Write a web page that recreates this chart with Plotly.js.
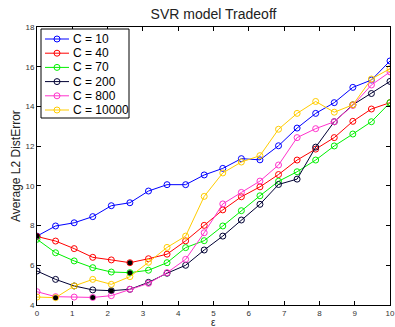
<!DOCTYPE html>
<html>
<head>
<meta charset="utf-8">
<script src="https://cdn.plot.ly/plotly-3.0.1.min.js"></script>
<style>html,body{margin:0;padding:0;background:#fff;}#chart{width:395px;height:327px;}</style>
</head>
<body>
<div id="chart"></div>
<script>
// epsilon values (x axis)
const eps = [0, 0.5263, 1.0526, 1.5789, 2.1053, 2.6316, 3.1579, 3.6842, 4.2105, 4.7368,
             5.2632, 5.7895, 6.3158, 6.8421, 7.3684, 7.8947, 8.4211, 8.9474, 9.4737, 10];

const seriesNames = ['C = 10', 'C = 40', 'C = 70', 'C = 200', 'C = 800', 'C = 10000'];

const c10    = [7.47, 7.98, 8.14, 8.45, 9.00, 9.15, 9.74, 10.06, 10.06, 10.55, 10.88, 11.37, 11.31, 12.02, 12.91, 13.65, 14.19, 14.96, 15.33, 16.29];
const c40    = [7.45, 7.22, 6.84, 6.40, 6.27, 6.13, 6.33, 6.56, 7.23, 8.01, 8.79, 9.45, 9.95, 10.57, 11.30, 11.85, 12.43, 13.25, 13.87, 14.19];
const c70    = [7.31, 6.63, 6.22, 5.88, 5.66, 5.63, 5.75, 6.13, 6.89, 7.24, 7.98, 8.75, 9.50, 10.23, 10.71, 11.30, 12.01, 12.61, 13.23, 14.19];
const c200   = [5.71, 5.29, 4.96, 4.76, 4.72, 4.79, 5.14, 5.60, 6.00, 6.77, 7.47, 8.28, 9.07, 10.07, 10.34, 11.95, 13.23, 14.08, 14.65, 15.26];
const c800   = [4.67, 4.42, 4.40, 4.38, 4.47, 4.79, 5.09, 5.63, 6.30, 7.64, 9.09, 9.67, 10.24, 11.05, 12.43, 12.88, 13.23, 14.05, 15.08, 15.74];
const c10000 = [4.40, 4.37, 4.96, 5.29, 5.04, 5.43, 6.15, 6.90, 7.47, 9.47, 10.65, 11.20, 11.52, 12.85, 13.65, 14.25, 13.71, 14.08, 15.38, 15.90];

const seriesValues = [c10, c40, c70, c200, c800, c10000];
const seriesColors = ['#0000ff', '#ff0000', '#00f000', '#000033', '#ff33cc', '#ffcc00'];

const xTicks = [0, 1, 2, 3, 4, 5, 6, 7, 8, 9, 10];
const yTicks = [4, 6, 8, 10, 12, 14, 16, 18];
const xTitle = 'ε';
const yTitle = 'Average L2 DistError';

const FONT = 'Liberation Sans, Arial, Helvetica, sans-serif';

const traces = [];
seriesValues.forEach((vals, i) => {
  traces.push({
    type: 'scatter', mode: 'lines+markers', x: eps, y: vals, name: seriesNames[i],
    line: {color: seriesColors[i], width: 1},
    marker: {symbol: 'circle-open', size: 6, color: seriesColors[i], line: {width: 1, color: seriesColors[i]}},
    showlegend: false, hoverinfo: 'skip'
  });
});
// minimum of each series marked with a filled black dot
const minX = [], minY = [];
seriesValues.forEach(vals => {
  let k = 0;
  vals.forEach((v, j) => { if (v < vals[k]) k = j; });
  minX.push(eps[k]); minY.push(vals[k]);
});
traces.push({
  type: 'scatter', mode: 'markers', x: minX, y: minY,
  marker: {symbol: 'circle', size: 5, color: '#000'}, showlegend: false, hoverinfo: 'skip'
});

// custom legend (paper coordinates) to match compact spacing
const W = 353, H = 278, L = 37, T = 27;
const px = p => (p - L) / W;
const py = p => (T + H - p) / H;
const shapes = [{type: 'rect', xref: 'paper', yref: 'paper', x0: px(41), x1: px(129), y0: py(118), y1: py(29),
  line: {color: '#000', width: 1}, fillcolor: '#fff', layer: 'above'}];
const annotations = [];
seriesNames.forEach((nm, i) => {
  const yc = 39 + 14.2 * i;
  shapes.push({type: 'line', xref: 'paper', yref: 'paper', x0: px(45), x1: px(69), y0: py(yc), y1: py(yc),
    line: {color: seriesColors[i], width: 1}, layer: 'above'});
  shapes.push({type: 'circle', xref: 'paper', yref: 'paper', x0: px(57 - 3), x1: px(57 + 3), y0: py(yc + 3), y1: py(yc - 3),
    line: {color: seriesColors[i], width: 1}, fillcolor: 'rgba(0,0,0,0)', layer: 'above'});
  annotations.push({xref: 'paper', yref: 'paper', x: px(71), y: py(yc), xanchor: 'left', yanchor: 'middle',
    text: nm, showarrow: false, font: {family: FONT, size: 12, color: '#000'}});
});
// axis titles
annotations.push({xref: 'paper', yref: 'paper', x: 0.5, y: py(322), xanchor: 'center', yanchor: 'middle',
  text: xTitle, showarrow: false, font: {family: FONT, size: 10, color: '#222'}});
annotations.push({xref: 'paper', yref: 'paper', x: px(16), y: 0.5, xanchor: 'center', yanchor: 'middle',
  textangle: -90, text: yTitle, showarrow: false, font: {family: FONT, size: 12, color: '#222'}});

const axisCommon = {
  showline: true, linecolor: '#000', linewidth: 1, mirror: 'ticks',
  ticks: 'inside', ticklen: 4, tickcolor: '#000', tickwidth: 1,
  showgrid: false, zeroline: false,
  tickfont: {family: FONT, size: 8, color: '#333'}
};

const layout = {
  width: 395, height: 327,
  margin: {l: 37, r: 5, t: 27, b: 22},
  paper_bgcolor: '#fff', plot_bgcolor: '#fff',
  font: {family: FONT},
  title: {text: 'SVR model Tradeoff', font: {family: FONT, size: 14, color: '#222'},
          x: 0.5, xref: 'paper', y: 1 - 14 / 327, yref: 'container', yanchor: 'middle'},
  xaxis: Object.assign({}, axisCommon, {range: [0, 10], tickvals: xTicks, ticktext: xTicks.map(String)}),
  yaxis: Object.assign({}, axisCommon, {range: [4, 18], tickvals: yTicks, ticktext: yTicks.map(String)}),
  shapes: shapes, annotations: annotations, showlegend: false
};

Plotly.newPlot('chart', traces, layout, {staticPlot: true, displayModeBar: false});
</script>
</body>
</html>
